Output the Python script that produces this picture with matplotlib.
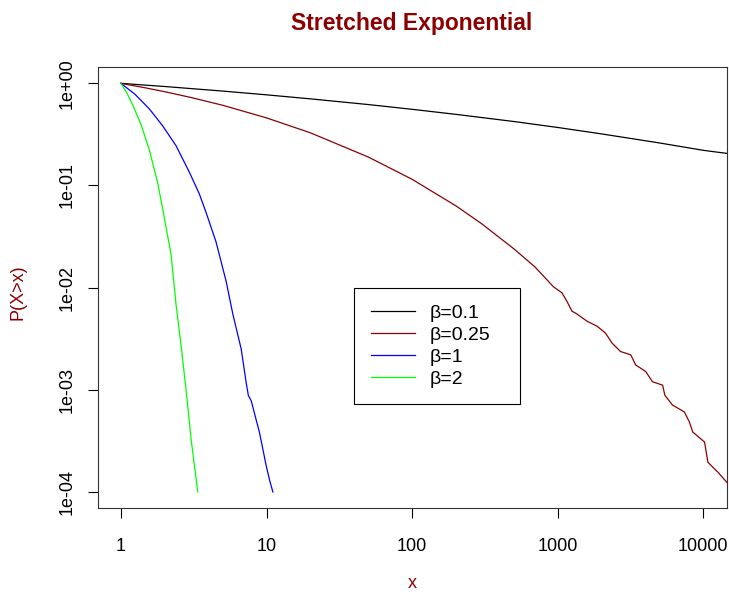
import matplotlib
matplotlib.use('Agg')
import matplotlib.pyplot as plt

# survival curves P(X>x)
black_x = [1, 2, 5, 10, 20, 50, 100, 200, 500, 1000, 2000, 5000, 10000, 15000]
black_p = [1.0, 0.931, 0.840, 0.772, 0.705, 0.620, 0.557, 0.497, 0.423, 0.370, 0.320, 0.261, 0.221, 0.205]

red_x = [1, 1.5, 2, 3, 5, 10, 20, 50, 100, 200, 300, 500, 700, 841, 935, 1069, 1156, 1253,
         1355, 1592, 1866, 2128, 2366, 2704, 3177, 3436, 4027, 4477, 5260, 5445, 6152, 7413,
         8035, 8472, 10210, 10770, 12620, 14550, 16000]
red_p = [1.0, 0.899, 0.828, 0.729, 0.610, 0.459, 0.328, 0.190, 0.115, 0.0632, 0.0423, 0.0240,
         0.0159, 0.0120, 0.0102, 0.00891, 0.00738, 0.00589, 0.00553, 0.00469, 0.00419, 0.00360,
         0.00286, 0.00237, 0.00220, 0.00175, 0.00151, 0.00120, 0.00111, 0.000887, 0.000708,
         0.000608, 0.000484, 0.000386, 0.000308, 0.000195, 0.000156, 0.000124, 0.0001]

blue_x = [1, 1.25, 1.57, 1.93, 2.39, 2.95, 3.45, 3.85, 4.5, 5.28, 5.87, 6.7, 7.25, 7.5, 7.85,
          8.95, 9.95, 10.5, 11.05]
blue_p = [1.0, 0.78, 0.56, 0.385, 0.245, 0.135, 0.083, 0.054, 0.028, 0.0115, 0.0055, 0.0025,
          0.00117, 0.00088, 0.00078, 0.00038, 0.00018, 0.00013, 0.0001]

green_x = [1, 1.1, 1.2, 1.37, 1.57, 1.79, 1.93, 2.21, 2.39, 2.59, 2.80, 3.03, 3.2, 3.37]
green_p = [1.0, 0.80, 0.62, 0.40, 0.22, 0.105, 0.06, 0.021, 0.0068, 0.0027, 0.001, 0.00033,
           0.00018, 0.0001]

labels = ['\u03b2=0.1', '\u03b2=0.25', '\u03b2=1', '\u03b2=2']
colors = ['black', '#8B0000', '#0000FF', '#00FF00']
x_ticks = [1, 10, 100, 1000, 10000]
x_ticklabels = ['1', '10', '100', '1000', '10000']
y_ticks = [1e-4, 1e-3, 1e-2, 1e-1, 1]
y_ticklabels = ['1e-04', '1e-03', '1e-02', '1e-01', '1e+00']

plt.rcParams['font.family'] = ['Liberation Sans', 'DejaVu Sans']

fig = plt.figure(figsize=(7.29, 5.94), dpi=100)
ax = fig.add_axes([0.134, 0.1443, 0.8626, 0.7429])

series = [(black_x, black_p), (red_x, red_p), (blue_x, blue_p), (green_x, green_p)]
for (xs, ps), c, lab in zip(series, colors, labels):
    ax.plot(xs, ps, color=c, lw=0.9, label=lab)

ax.set_xscale('log')
ax.set_yscale('log')
# R style: 4% padding around 1..10000 and 1e-4..1
ax.set_xlim(10 ** -0.16, 10 ** 4.16)
ax.set_ylim(10 ** -4.16, 10 ** 0.16)
ax.minorticks_off()
ax.set_xticks(x_ticks)
ax.set_xticklabels(x_ticklabels)
ax.set_yticks(y_ticks)
ax.set_yticklabels(y_ticklabels, rotation=90, va='center')
ax.tick_params(axis='both', direction='out', length=7.2, width=0.8, labelsize=13, colors='black')
ax.tick_params(axis='x', pad=14)
ax.tick_params(axis='y', pad=9)
for sp in ax.spines.values():
    sp.set_linewidth(0.8)
    sp.set_color('#333333')

ax.set_xlabel('x', color='#8B0000', fontsize=13)
ax.xaxis.set_label_coords(0.5, -0.17)
ax.xaxis.label.set_va('center')
ax.set_ylabel('P(X>x)', color='#8B0000', fontsize=13)
ax.yaxis.set_label_coords(-0.127, 0.49)
ax.yaxis.label.set_va('center')

fig.text(0.5652, 0.960, 'Stretched Exponential', ha='center', va='center',
         fontsize=16.5, fontweight='bold', color='#8B0000')

# legend box spans x 354..520 px, top at 288 px
leg = ax.legend(loc='upper left', bbox_to_anchor=(0.4076, 0.2475, 0.264, 0.2517), mode='expand',
                borderaxespad=0, fancybox=False, framealpha=1, edgecolor='black', fontsize=14,
                handlelength=2.3, handletextpad=0.75, borderpad=0.85, labelspacing=0.22)
leg.get_frame().set_linewidth(0.8)

fig.savefig('out.png', dpi=100)
